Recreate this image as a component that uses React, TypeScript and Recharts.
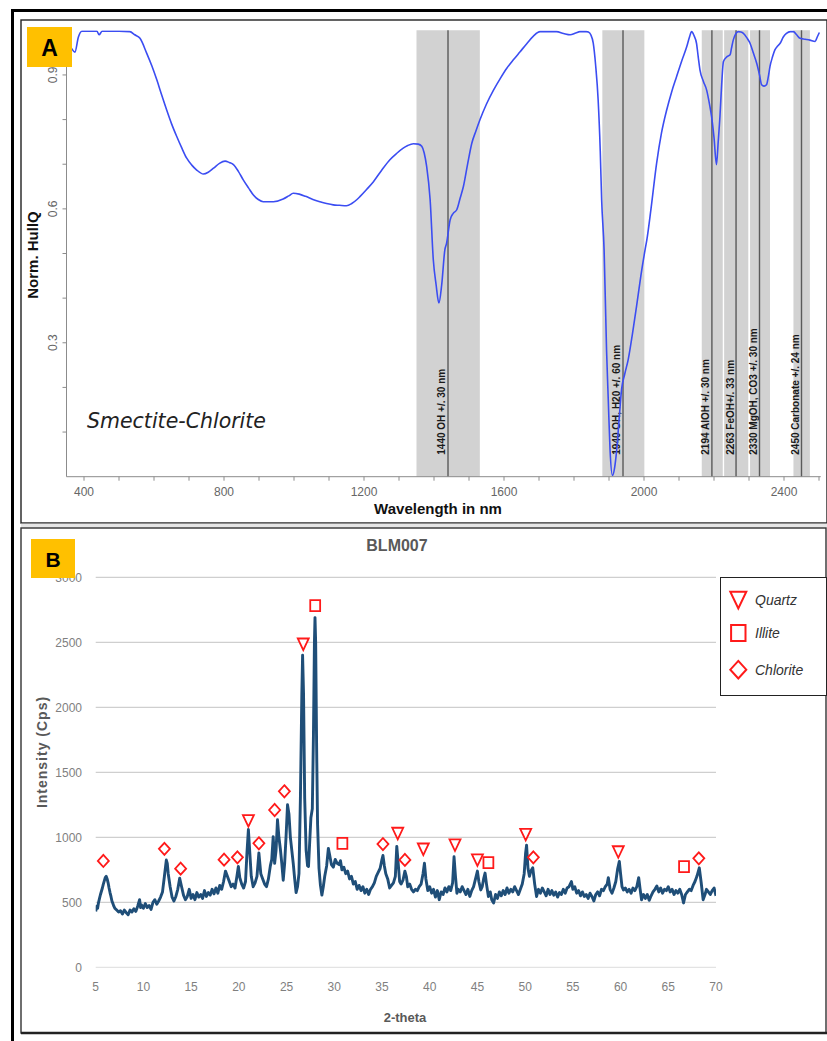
import React from 'react';
import {
  LineChart,
  Line,
  XAxis,
  YAxis,
  ReferenceArea,
  ReferenceLine,
  ComposedChart,
  Scatter,
  CartesianGrid,
  Legend,
} from 'recharts';

// ---------- Panel A : spectrum ----------
const spectrumPoints: [number, number][] = [
  [352, 0.972], [362, 0.962], [374, 0.951], [384, 0.985], [394, 0.998], [420, 0.998], [437, 0.998],
  [443, 0.99], [452, 0.998], [500, 0.998], [531, 0.997], [545, 0.99], [560, 0.982], [579, 0.949],
  [594, 0.92], [608, 0.889], [622, 0.855], [636, 0.822], [650, 0.791], [665, 0.762], [679, 0.737],
  [693, 0.714], [708, 0.698], [722, 0.687], [741, 0.678], [755, 0.682], [770, 0.691], [787, 0.702],
  [803, 0.707], [815, 0.704], [827, 0.699], [841, 0.684], [855, 0.665], [870, 0.647], [884, 0.631],
  [898, 0.621], [912, 0.616], [941, 0.616], [969, 0.622], [985, 0.629], [998, 0.635], [1015, 0.633],
  [1033, 0.628], [1054, 0.621], [1074, 0.616], [1093, 0.612], [1112, 0.609], [1130, 0.608], [1150, 0.607],
  [1165, 0.612], [1180, 0.621], [1189, 0.628], [1208, 0.644], [1227, 0.661], [1250, 0.686], [1274, 0.71],
  [1293, 0.724], [1312, 0.736], [1325, 0.742], [1341, 0.746], [1355, 0.745], [1365, 0.74], [1372, 0.725],
  [1379, 0.695], [1389, 0.62], [1398, 0.486], [1406, 0.43], [1414, 0.389], [1422, 0.43], [1431, 0.508],
  [1436, 0.523], [1446, 0.575], [1455, 0.59], [1465, 0.598], [1475, 0.625], [1484, 0.65], [1496, 0.7],
  [1508, 0.747], [1520, 0.775], [1531, 0.799], [1550, 0.835], [1570, 0.866], [1590, 0.893], [1608, 0.915],
  [1628, 0.935], [1646, 0.952], [1665, 0.97], [1684, 0.987], [1703, 0.997], [1750, 0.997], [1770, 0.993],
  [1789, 0.99], [1805, 0.994], [1817, 0.997], [1835, 0.997], [1841, 0.996], [1848, 0.99], [1855, 0.971],
  [1862, 0.92], [1869, 0.844], [1875, 0.73], [1879, 0.62], [1886, 0.508], [1893, 0.284], [1898, 0.17],
  [1903, 0.06], [1910, 0.003], [1916, 0.02], [1922, 0.06], [1929, 0.13], [1936, 0.196], [1945, 0.23],
  [1955, 0.263], [1967, 0.32], [1979, 0.383], [1991, 0.45], [2003, 0.508], [2008, 0.53], [2020, 0.6],
  [2036, 0.702], [2050, 0.77], [2065, 0.822], [2079, 0.862], [2093, 0.896], [2108, 0.932], [2122, 0.963],
  [2130, 0.985], [2136, 0.997], [2143, 0.988], [2150, 0.971], [2155, 0.94], [2160, 0.911], [2170, 0.885],
  [2179, 0.866], [2187, 0.835], [2193, 0.807], [2200, 0.76], [2207, 0.699], [2212, 0.75], [2217, 0.807],
  [2222, 0.88], [2227, 0.93], [2236, 0.94], [2246, 0.945], [2250, 0.96], [2255, 0.978], [2262, 0.992],
  [2269, 0.997], [2277, 0.996], [2284, 0.993], [2294, 0.983], [2303, 0.971], [2312, 0.95], [2322, 0.926],
  [2330, 0.9], [2336, 0.878], [2343, 0.875], [2350, 0.878], [2355, 0.895], [2360, 0.919], [2367, 0.94],
  [2374, 0.956], [2382, 0.965], [2389, 0.971], [2398, 0.985], [2407, 0.993], [2418, 0.997], [2427, 0.997],
  [2436, 0.99], [2446, 0.982], [2460, 0.98], [2474, 0.978], [2489, 0.975], [2495, 0.985], [2501, 0.995],
];

const bandCenters = [1440, 1940, 2194, 2263, 2330, 2450];
const bandStarts = [1350, 1881, 2165, 2229, 2303, 2427];
const bandEnds = [1531, 2001, 2225, 2298, 2360, 2474];
const bandLabels = [
  '1440 OH +/. 30 nm',
  '1940 OH, H20 +/. 60 nm',
  '2194 AlOH +/. 30 nm',
  '2263 FeOH+/. 33 nm',
  '2330 MgOH, CO3 +/. 30 nm',
  '2450 Carbonate +/. 24 nm',
];

const wavelengthTicks = [400, 500, 600, 700, 800, 900, 1000, 1100, 1200, 1300, 1400, 1500, 1600, 1700, 1800, 1900, 2000, 2100, 2200, 2300, 2400, 2500];
const wavelengthLabelled = [400, 800, 1200, 1600, 2000, 2400];
const hullTicks = [0.1, 0.2, 0.3, 0.4, 0.5, 0.6, 0.7, 0.8, 0.9];
const hullLabelled = [0.3, 0.6, 0.9];

// ---------- Panel B : XRD ----------
const xrdPattern: [number, number][] = [
  [5.0, 430], [5.1, 470], [5.2, 455], [5.3, 500], [5.4, 530], [5.5, 560], [5.6, 585], [5.7, 610], [5.8, 640],
  [5.9, 665], [6.0, 690], [6.1, 700], [6.2, 680], [6.3, 650], [6.4, 610], [6.5, 575], [6.6, 545], [6.7, 510],
  [6.8, 490], [6.9, 470], [7.0, 455], [7.2, 440], [7.4, 425], [7.6, 435], [7.8, 410], [8.0, 440], [8.2, 420],
  [8.4, 405], [8.6, 440], [8.8, 425], [9.0, 450], [9.2, 430], [9.4, 470], [9.6, 520], [9.7, 460], [9.8, 480],
  [10.0, 455], [10.2, 490], [10.4, 460], [10.6, 475], [10.8, 445], [11.0, 500], [11.2, 520], [11.4, 485],
  [11.6, 510], [11.8, 540], [12.0, 580], [12.2, 700], [12.4, 825], [12.5, 800], [12.6, 720], [12.8, 620],
  [13.0, 540], [13.2, 510], [13.4, 545], [13.6, 600], [13.8, 685], [14.0, 620], [14.2, 555], [14.4, 520],
  [14.6, 545], [14.8, 600], [15.0, 530], [15.2, 560], [15.4, 520], [15.6, 575], [15.8, 540], [16.0, 560],
  [16.2, 530], [16.4, 590], [16.6, 545], [16.8, 575], [17.0, 555], [17.2, 600], [17.4, 565], [17.6, 610],
  [17.8, 570], [18.0, 630], [18.2, 600], [18.4, 660], [18.6, 740], [18.8, 700], [19.0, 660], [19.2, 620],
  [19.4, 640], [19.6, 610], [19.8, 700], [19.95, 775], [20.1, 690], [20.3, 640], [20.5, 610], [20.7, 660],
  [20.85, 880], [21.0, 1060], [21.15, 880], [21.3, 700], [21.5, 620], [21.7, 650], [21.9, 700], [22.1, 880],
  [22.3, 720], [22.5, 680], [22.7, 640], [22.9, 620], [23.1, 680], [23.3, 780], [23.45, 830], [23.6, 1005],
  [23.75, 800], [23.9, 900], [24.05, 1135], [24.2, 1000], [24.35, 910], [24.5, 800], [24.65, 670], [24.8, 800],
  [24.95, 1010], [25.1, 1250], [25.25, 1180], [25.4, 1000], [25.55, 900], [25.7, 800], [25.85, 680], [26.0, 575],
  [26.15, 620], [26.3, 720], [26.45, 1300], [26.6, 2100], [26.68, 2400], [26.78, 2100], [26.9, 1300],
  [27.05, 900], [27.2, 780], [27.3, 775], [27.45, 1000], [27.55, 1150], [27.7, 1220], [27.82, 1800],
  [27.92, 2500], [27.98, 2690], [28.05, 2500], [28.15, 1700], [28.25, 1100], [28.4, 760], [28.55, 630],
  [28.7, 555], [28.85, 620], [29.0, 700], [29.2, 780], [29.38, 915], [29.55, 850], [29.7, 790], [29.9, 770],
  [30.1, 830], [30.3, 800], [30.5, 790], [30.65, 820], [30.8, 750], [31.0, 770], [31.2, 720], [31.4, 740],
  [31.6, 680], [31.8, 700], [32.0, 640], [32.2, 660], [32.4, 600], [32.6, 630], [32.8, 590], [33.0, 620],
  [33.2, 570], [33.4, 600], [33.6, 560], [33.8, 600], [34.0, 620], [34.2, 650], [34.4, 700], [34.6, 730],
  [34.8, 760], [35.0, 830], [35.1, 860], [35.25, 780], [35.4, 720], [35.6, 680], [35.8, 610], [36.0, 630],
  [36.2, 650], [36.4, 700], [36.55, 930], [36.7, 800], [36.85, 660], [37.0, 640], [37.2, 670], [37.4, 740],
  [37.55, 700], [37.7, 620], [37.9, 640], [38.1, 600], [38.3, 580], [38.5, 600], [38.7, 590], [38.9, 620],
  [39.1, 640], [39.3, 720], [39.45, 800], [39.6, 680], [39.8, 590], [40.0, 620], [40.2, 570], [40.4, 600],
  [40.6, 540], [40.8, 590], [41.0, 520], [41.2, 580], [41.4, 560], [41.6, 610], [41.8, 580], [42.0, 620],
  [42.2, 590], [42.4, 650], [42.55, 850], [42.7, 700], [42.85, 570], [43.0, 600], [43.2, 580], [43.4, 620],
  [43.6, 590], [43.8, 560], [44.0, 600], [44.2, 545], [44.4, 590], [44.6, 620], [44.8, 680], [45.0, 740],
  [45.15, 660], [45.35, 595], [45.5, 620], [45.65, 680], [45.8, 725], [45.95, 640], [46.15, 545], [46.35, 580],
  [46.5, 520], [46.7, 495], [46.9, 560], [47.1, 530], [47.3, 580], [47.5, 550], [47.7, 590], [47.9, 560],
  [48.1, 610], [48.3, 570], [48.5, 600], [48.7, 580], [48.9, 620], [49.1, 590], [49.3, 560], [49.5, 600],
  [49.7, 640], [49.9, 720], [50.05, 880], [50.15, 940], [50.3, 760], [50.45, 700], [50.6, 740], [50.8, 765],
  [51.0, 640], [51.2, 545], [51.4, 600], [51.6, 570], [51.8, 610], [52.0, 580], [52.2, 550], [52.4, 600],
  [52.6, 560], [52.8, 590], [53.0, 555], [53.2, 580], [53.4, 540], [53.6, 575], [53.8, 560], [54.0, 600],
  [54.2, 570], [54.4, 610], [54.6, 620], [54.85, 660], [55.0, 600], [55.2, 620], [55.4, 570], [55.6, 590],
  [55.8, 550], [56.0, 580], [56.2, 545], [56.4, 560], [56.6, 530], [56.8, 570], [57.0, 545], [57.2, 510],
  [57.4, 560], [57.6, 580], [57.8, 550], [58.0, 600], [58.2, 590], [58.4, 620], [58.6, 640], [58.72, 690],
  [58.9, 600], [59.1, 570], [59.3, 610], [59.5, 660], [59.7, 760], [59.87, 815], [60.0, 720], [60.15, 620],
  [60.3, 595], [60.5, 610], [60.7, 580], [60.9, 600], [61.1, 570], [61.3, 610], [61.5, 590], [61.7, 620],
  [61.9, 690], [62.05, 600], [62.2, 520], [62.4, 560], [62.6, 530], [62.8, 560], [63.0, 515], [63.2, 550],
  [63.4, 580], [63.6, 600], [63.8, 625], [64.0, 580], [64.2, 610], [64.4, 570], [64.6, 600], [64.8, 590],
  [65.0, 620], [65.2, 580], [65.4, 600], [65.6, 560], [65.8, 590], [66.0, 570], [66.2, 600], [66.4, 560],
  [66.6, 495], [66.8, 560], [67.0, 580], [67.2, 600], [67.4, 590], [67.6, 630], [67.8, 660], [68.0, 700],
  [68.25, 765], [68.45, 650], [68.65, 520], [68.85, 560], [69.0, 600], [69.2, 580], [69.4, 560], [69.6, 590],
  [69.8, 610], [70.0, 550],
];

const quartzTheta = [21.0, 26.75, 36.65, 39.33, 42.65, 45.0, 50.06, 59.76];
const quartzIntensity = [1128, 2487, 1031, 910, 941, 826, 1023, 889];
const illiteTheta = [28.0, 30.85, 46.15, 66.65];
const illiteIntensity = [2782, 954, 805, 774];
const chloriteTheta = [5.8, 12.2, 13.9, 18.45, 19.85, 22.1, 23.75, 24.77, 35.1, 37.4, 50.86, 68.2];
const chloriteIntensity = [818, 911, 759, 828, 846, 954, 1210, 1354, 948, 826, 846, 838];

const mineralOrder = ['Quartz', 'Illite', 'Chlorite'];
const thetaTicks = [5, 10, 15, 20, 25, 30, 35, 40, 45, 50, 55, 60, 65, 70];
const intensityTicks = [0, 500, 1000, 1500, 2000, 2500, 3000];

// ---------- derived tables ----------
const spectrumData = spectrumPoints.map(([nm, v]) => ({ nm, v }));
const xrdData = xrdPattern.map(([t, i]) => ({ t, i }));
const toPoints = (ts: number[], is: number[]) => ts.map((t, k) => ({ t, i: is[k] }));
const quartzData = toPoints(quartzTheta, quartzIntensity);
const illiteData = toPoints(illiteTheta, illiteIntensity);
const chloriteData = toPoints(chloriteTheta, chloriteIntensity);

const RED = '#ff1a1a';
const SANS = '"Liberation Sans", Arial, sans-serif';

const markerPath = (kind: string, cx: number, cy: number, s: number) => {
  if (kind === 'Quartz') {
    return `M${cx - s * 0.5},${cy - s * 0.5} L${cx + s * 0.5},${cy - s * 0.5} L${cx},${cy + s * 0.55} Z`;
  }
  if (kind === 'Illite') {
    return `M${cx - s * 0.45},${cy - s * 0.5} L${cx + s * 0.45},${cy - s * 0.5} L${cx + s * 0.45},${cy + s * 0.5} L${cx - s * 0.45},${cy + s * 0.5} Z`;
  }
  return `M${cx},${cy - s * 0.55} L${cx + s * 0.5},${cy} L${cx},${cy + s * 0.55} L${cx - s * 0.5},${cy} Z`;
};

const makeShape = (kind: string) => (props: any) => {
  const { cx, cy } = props;
  if (cx == null || cy == null) return <g />;
  return <path d={markerPath(kind, cx, cy, 11)} fill="#fff" stroke={RED} strokeWidth={1.8} />;
};

const YTickA = (props: any) => {
  const { x, y, payload } = props;
  if (!hullLabelled.includes(Math.round(payload.value * 10) / 10)) return <g />;
  const bx = x - 3.5;
  return (
    <text
      x={bx}
      y={y}
      transform={`rotate(-90, ${bx}, ${y})`}
      textAnchor="middle"
      fontSize={12}
      fontFamily={SANS}
      fill="#666"
    >
      {payload.value.toFixed(1)}
    </text>
  );
};

const bandLabelRenderer = (text: string) => (props: any) => {
  const vb = props.viewBox || {};
  const x = (vb.x ?? 0) - 2.5;
  const y = (vb.y ?? 0) + (vb.height ?? 0) - 22;
  return (
    <text
      x={x}
      y={y}
      transform={`rotate(-90, ${x}, ${y})`}
      textAnchor="start"
      fontSize={10}
      fontWeight="bold"
      fontFamily={SANS}
      fill="#1a1a1a"
    >
      {text}
    </text>
  );
};

const LegendBox = (props: any) => {
  const payload = props.payload || [];
  const names = mineralOrder.filter((n) => payload.some((e: any) => e.value === n));
  const rows = [22.7, 56, 92.7];
  return (
    <div
      style={{
        width: 107,
        height: 119,
        border: '1.3px solid #222',
        boxSizing: 'border-box',
        background: '#fff',
        position: 'relative',
        overflow: 'visible',
      }}
    >
      <svg width={106} height={118} style={{ position: 'absolute', left: -1.3, top: -1.3, overflow: 'visible' }}>
        {names.map((name: string, k: number) => (
          <g key={name}>
            <path d={markerPath(name, 18.3, rows[k], 16)} fill="none" stroke={RED} strokeWidth={2} />
            <text x={35} y={rows[k] + 5} fontSize={14} fontStyle="italic" fontFamily={SANS} fill="#333">
              {name}
            </text>
          </g>
        ))}
      </svg>
    </div>
  );
};

export default function App() {
  return (
    <div style={{ position: 'absolute', left: 0, top: 0, width: 827, height: 1041, background: '#fff', overflow: 'hidden' }}>
      {/* frames */}
      <svg width={827} height={1041} style={{ position: 'absolute', left: 0, top: 0 }}>
        <line x1={12.5} y1={9} x2={12.5} y2={1041} stroke="#000" strokeWidth={3} />
        <line x1={11} y1={10.5} x2={827} y2={10.5} stroke="#000" strokeWidth={3} />
        <rect x={21} y={20} width={806} height={503} fill="none" stroke="#222" strokeWidth={1.4} />
        <rect x={21} y={523.7} width={806} height={4} fill="#e6e6e6" />
        <rect x={21} y={528} width={805} height={505} fill="none" stroke="#333" strokeWidth={1.4} />
        <line x1={21} y1={1033} x2={827} y2={1033} stroke="#222" strokeWidth={2.5} />
      </svg>

      {/* Panel A */}
      <div style={{ position: 'absolute', left: 0, top: 0 }}>
        <LineChart
          width={827}
          height={523}
          data={spectrumData}
          margin={{ top: 30.3, right: 6.25, bottom: 16.3, left: 26.5 }}
        >
          <XAxis
            type="number"
            dataKey="nm"
            domain={[350, 2505]}
            ticks={wavelengthTicks}
            interval={0}
            tickFormatter={(v: number) => (wavelengthLabelled.includes(v) ? String(v) : '')}
            tickSize={4}
            tickMargin={7}
            height={30}
            stroke="#8c8c8c"
            tick={{ fill: '#666', fontSize: 12, fontFamily: SANS }}
            allowDataOverflow
          />
          <YAxis
            type="number"
            domain={[0, 1]}
            ticks={hullTicks}
            interval={0}
            width={40}
            tickSize={4}
            tickMargin={2}
            stroke="#8c8c8c"
            tick={<YTickA />}
            allowDataOverflow
          />
          {bandCenters.map((c, k) => (
            <ReferenceArea
              key={`band-${c}`}
              x1={bandStarts[k]}
              x2={bandEnds[k]}
              y1={0}
              y2={1}
              fill="#d2d2d2"
              fillOpacity={1}
              stroke="none"
            />
          ))}
          {bandCenters.map((c, k) => (
            <ReferenceLine
              key={`line-${c}`}
              x={c}
              stroke="#5a5a5a"
              strokeWidth={1.4}
              label={bandLabelRenderer(bandLabels[k])}
            />
          ))}
          <Line
            dataKey="v"
            type="monotone"
            stroke="#3b4df2"
            strokeWidth={1.6}
            dot={false}
            isAnimationActive={false}
          />
        </LineChart>
      </div>

      {/* Panel B */}
      <div style={{ position: 'absolute', left: 0, top: 528 }}>
        <ComposedChart width={827} height={505} margin={{ top: 49.3, right: 111, bottom: 35.7, left: 35.7 }}>
          <CartesianGrid vertical={false} stroke="#cfcfcf" strokeWidth={1.3} horizontalValues={[500, 1000, 1500, 2000, 2500, 3000]} />
          <XAxis
            type="number"
            dataKey="t"
            domain={[5, 70]}
            ticks={thetaTicks}
            interval={0}
            tickLine={false}
            tickSize={0}
            tickMargin={15}
            height={30}
            axisLine={{ stroke: '#e3e3e3', strokeWidth: 1.3 }}
            tick={{ fill: '#7f7f7f', fontSize: 12, fontFamily: SANS }}
            allowDataOverflow
          />
          <YAxis
            type="number"
            domain={[0, 3000]}
            ticks={intensityTicks}
            interval={0}
            axisLine={false}
            tickLine={false}
            tickSize={0}
            tickMargin={13.7}
            width={60}
            tick={{ fill: '#7f7f7f', fontSize: 12, fontFamily: SANS }}
            allowDataOverflow
          />
          <Line
            data={xrdData}
            dataKey="i"
            type="linear"
            stroke="#1f4e78"
            strokeWidth={2.9}
            strokeLinejoin="round"
            dot={false}
            legendType="none"
            isAnimationActive={false}
          />
          <Scatter name="Quartz" data={quartzData} dataKey="i" shape={makeShape('Quartz')} isAnimationActive={false} />
          <Scatter name="Illite" data={illiteData} dataKey="i" shape={makeShape('Illite')} isAnimationActive={false} />
          <Scatter name="Chlorite" data={chloriteData} dataKey="i" shape={makeShape('Chlorite')} isAnimationActive={false} />
          <Legend
            layout="vertical"
            align="center"
            verticalAlign="middle"
            content={<LegendBox />}
            wrapperStyle={{ left: 720, top: 49.3, width: 107, height: 119 }}
          />
        </ComposedChart>
      </div>

      {/* overlay texts and badges */}
      <svg width={827} height={1041} style={{ position: 'absolute', left: 0, top: 0, pointerEvents: 'none' }}>
        <rect x={27} y={27} width={45} height={40} fill="#ffc000" />
        <text x={49.5} y={56} textAnchor="middle" fontSize={23} fontWeight="bold" fontFamily={SANS} fill="#000">A</text>
        <text
          x={38}
          y={255}
          transform="rotate(-90, 38, 255)"
          textAnchor="middle"
          fontSize={15}
          fontWeight="bold"
          fontFamily={SANS}
          fill="#111"
        >
          Norm. HullQ
        </text>
        <text x={438} y={514} textAnchor="middle" fontSize={15} fontWeight="bold" fontFamily={SANS} fill="#111">
          Wavelength in nm
        </text>
        <text x={87} y={428} fontSize={20.5} fontStyle="italic" fontFamily='"DejaVu Sans", Verdana, sans-serif' fill="#222">
          Smectite-Chlorite
        </text>

        <rect x={31} y={539} width={44} height={39} fill="#ffc000" />
        <text x={53} y={567} textAnchor="middle" fontSize={21} fontWeight="bold" fontFamily={SANS} fill="#000">B</text>
        <text x={397} y={551} textAnchor="middle" fontSize={16} fontWeight="bold" fontFamily={SANS} fill="#595959">
          BLM007
        </text>
        <text
          x={47}
          y={752}
          transform="rotate(-90, 47, 752)"
          textAnchor="middle"
          fontSize={14}
          fontWeight="bold"
          fontFamily={SANS}
          letterSpacing={1}
          fill="#595959"
        >
          Intensity (Cps)
        </text>
        <text x={405} y={1022} textAnchor="middle" fontSize={13} fontWeight="bold" fontFamily={SANS} fill="#595959">
          2-theta
        </text>
      </svg>
    </div>
  );
}
